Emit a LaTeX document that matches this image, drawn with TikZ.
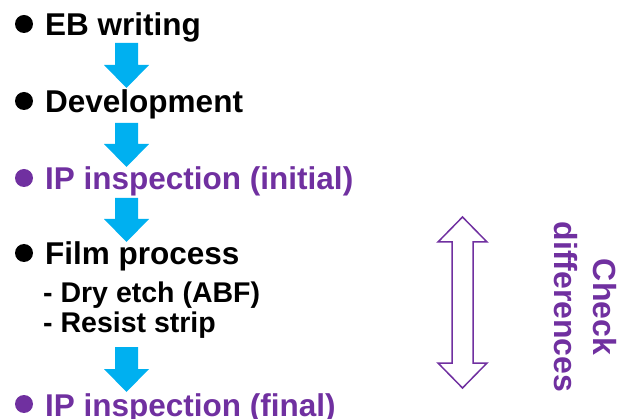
\documentclass[tikz,border=0pt]{standalone}
\usepackage{fontspec}
\setmainfont{Liberation Sans}
\usetikzlibrary{positioning}
\definecolor{stepblue}{HTML}{00B0F0}
\definecolor{inspviolet}{HTML}{7030A0}

\tikzset{
  steptext/.style={anchor=base west, inner sep=0pt, font=\fontsize{31.5}{37}\selectfont\bfseries},
  subtext/.style={anchor=base west, inner sep=0pt, font=\fontsize{28.5}{33}\selectfont\bfseries},
  dot/.style={circle, fill, inner sep=0pt, minimum size=18pt},
}

\begin{document}
\begin{tikzpicture}[x=1pt,y=-1pt]
\useasboundingbox (0,0) rectangle (618,419);

% process steps
\node[steptext] (eb) at (45,36) {EB writing};
\node[steptext] (dev) at (45,113) {Development};
\node[steptext, inspviolet] (ipi) at (45,190) {IP inspection (initial)};
\node[steptext] (film) at (45,265) {Film process};
\node[subtext] (dry) at (43,303) {- Dry etch (ABF)};
\node[subtext] (strip) at (43,333) {- Resist strip};
\node[steptext, inspviolet] (ipf) at (45,416) {IP inspection (final)};

% bullets
\node[dot] (b1) at (24,24) {};
\node[dot] (b2) at (24,101) {};
\node[dot, inspviolet] (b3) at (24,178) {};
\node[dot] (b4) at (24,253) {};
\node[dot, inspviolet] (b5) at (24,404) {};

% flow arrows
\foreach \t/\b in {43/88,123/167,198/242,347/392} {
\fill[stepblue] (115,\t) -- (138,\t) -- (138,\b-23) -- (149,\b-23) -- (126.5,\b)
  -- (104,\b-23) -- (115,\b-23) -- cycle;
}

% double arrow
\draw[inspviolet, line width=1.5pt, line join=miter]
  (462.5,217) -- (487,242) -- (473,242) -- (473,363) -- (487,363) -- (462.5,388)
  -- (438,363) -- (452,363) -- (452,242) -- (438,242) -- cycle;

\node[inspviolet, rotate=-90, align=center, inner sep=0pt,
  font=\fontsize{32}{39}\selectfont\bfseries] (chk) at (585,307) {Check\\differences};

\end{tikzpicture}
\end{document}
